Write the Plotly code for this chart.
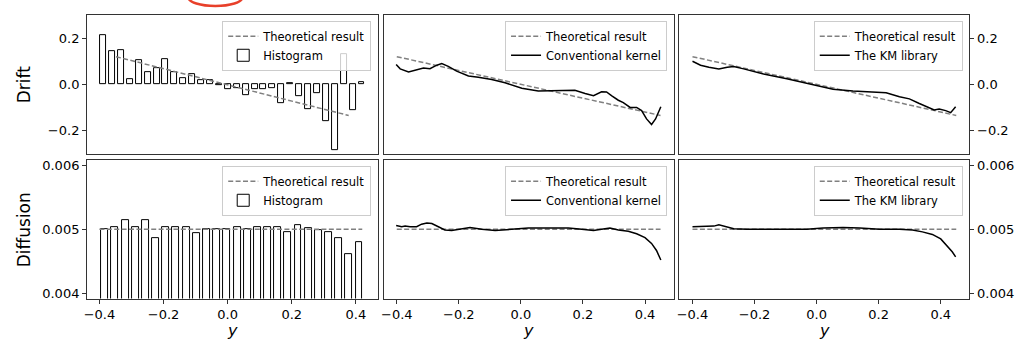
import numpy as np
import plotly.graph_objects as go

W, H = 1018, 343

# ---------------- data ----------------
drift_bins = np.round(np.linspace(-0.447, 0.497, 30), 4)
drift_hist = [0.214, 0.143, 0.149, 0.023, 0.106, 0.054, 0.069, 0.109, 0.054, 0.026,
              0.043, 0.020, 0.017, -0.002, -0.020, -0.018, -0.046, -0.022, -0.021, -0.015,
              -0.082, 0.003, -0.052, -0.107, -0.040, -0.160, -0.287, 0.130, -0.111, 0.008]

diff_bins = np.round(np.linspace(-0.383, 0.410, 26), 4)
diff_hist = [0.00501, 0.00504, 0.00514, 0.00503, 0.00515, 0.00487, 0.00503, 0.00504, 0.00503, 0.00494,
             0.00500, 0.00500, 0.00501, 0.00503, 0.00501, 0.00504, 0.00503, 0.00503, 0.00495, 0.00506,
             0.00502, 0.00498, 0.00495, 0.00487, 0.00462, 0.00480]

theory_x = [-0.4, 0.45]
theory_drift = [0.12, -0.135]
theory_hist_x = [-0.4, 0.42]
theory_diff = [0.005, 0.005]

ck_drift_x = [-0.402, -0.389, -0.362, -0.341, -0.314, -0.293, -0.271, -0.255, -0.234, -0.207,
              -0.169, -0.137, -0.094, -0.051, 0.003, 0.056, 0.121, 0.174, 0.207, 0.234,
              0.260, 0.276, 0.293, 0.314, 0.330, 0.352, 0.373, 0.389, 0.405, 0.421, 0.434, 0.451]
ck_drift_y = [0.086, 0.067, 0.054, 0.060, 0.071, 0.068, 0.083, 0.090, 0.078, 0.057,
              0.036, 0.031, 0.021, 0.007, -0.017, -0.029, -0.029, -0.026, -0.040, -0.049,
              -0.032, -0.033, -0.050, -0.069, -0.079, -0.100, -0.100, -0.114, -0.150, -0.174, -0.150, -0.097]

km_drift_x = [-0.400, -0.374, -0.347, -0.315, -0.288, -0.267, -0.235, -0.171, -0.096, -0.011,
              0.053, 0.117, 0.181, 0.224, 0.267, 0.299, 0.331, 0.363, 0.379, 0.395, 0.416, 0.432, 0.448]
km_drift_y = [0.100, 0.083, 0.074, 0.067, 0.074, 0.077, 0.067, 0.045, 0.024, -0.003,
              -0.021, -0.029, -0.032, -0.037, -0.054, -0.063, -0.083, -0.103, -0.111, -0.107, -0.114, -0.123, -0.097]

ck_diff_x = [-0.402, -0.384, -0.373, -0.357, -0.336, -0.320, -0.303, -0.287, -0.266, -0.245,
             -0.223, -0.191, -0.164, -0.126, -0.083, -0.030, 0.024, 0.078, 0.153, 0.196,
             0.234, 0.260, 0.287, 0.314, 0.346, 0.373, 0.400, 0.421, 0.437, 0.451]
ck_diff_y = [0.00506, 0.00504, 0.00505, 0.00504, 0.00504, 0.00508, 0.00510, 0.00509, 0.00504, 0.00499,
             0.00498, 0.00501, 0.00503, 0.00500, 0.00498, 0.00500, 0.00502, 0.00502, 0.00502, 0.00500,
             0.00498, 0.00500, 0.00502, 0.00499, 0.00497, 0.00493, 0.00487, 0.00478, 0.00467, 0.00452]

km_diff_x = [-0.400, -0.374, -0.352, -0.331, -0.315, -0.293, -0.267, -0.224, -0.160, -0.096,
             -0.032, 0.021, 0.085, 0.139, 0.203, 0.267, 0.309, 0.341, 0.373, 0.400, 0.421, 0.437, 0.448]
km_diff_y = [0.00504, 0.00504, 0.00504, 0.00505, 0.00507, 0.00504, 0.00501, 0.00500, 0.00500, 0.00499,
             0.00500, 0.00502, 0.00503, 0.00502, 0.00500, 0.00500, 0.00499, 0.00496, 0.00492, 0.00485, 0.00474, 0.00465, 0.00457]

x_ticks = [-0.4, -0.2, 0.0, 0.2, 0.4]
drift_ticks = [-0.2, 0.0, 0.2]
diff_ticks = [0.004, 0.005, 0.006]

# ---------------- layout geometry (px) ----------------
col_px = [(84.3, 376.0), (381.7, 672.7), (678.3, 969.3)]
row_px = [(13.3, 153.3), (160.0, 300.0)]
FONT = "DejaVu Sans"
GRAY = "#808080"


def px_x(p):
    return p / W


def px_y(p):
    return 1 - p / H


fig = go.Figure()


def ax_id(r, c):
    return r * 3 + c + 1


def sfx(k):
    return "" if k == 1 else str(k)


theory_line = dict(color=GRAY, width=1.5, dash="5px,2.4px")
black_line = dict(color="black", width=1.5)
bar_style = dict(color="white", line=dict(color="black", width=1))

panels = [
    (0, 0, "hist"), (0, 1, "ck"), (0, 2, "km"),
    (1, 0, "hist"), (1, 1, "ck"), (1, 2, "km"),
]
for r, c, kind in panels:
    k = ax_id(r, c)
    xa, ya = "x" + sfx(k), "y" + sfx(k)
    leg = "legend" + sfx(k)
    if kind == "hist":
        bx, by = (drift_bins, drift_hist) if r == 0 else (diff_bins, diff_hist)
        fig.add_trace(go.Bar(x=bx, y=by, width=0.0218, marker=bar_style, name="Histogram",
                             xaxis=xa, yaxis=ya, legend=leg, legendrank=2))
        tx = theory_x if r == 0 else theory_hist_x
    else:
        if kind == "ck":
            lx, ly = (ck_drift_x, ck_drift_y) if r == 0 else (ck_diff_x, ck_diff_y)
            nm = "Conventional kernel"
        else:
            lx, ly = (km_drift_x, km_drift_y) if r == 0 else (km_diff_x, km_diff_y)
            nm = "The KM library"
        tx = theory_x
    ty = theory_drift if r == 0 else theory_diff
    fig.add_trace(go.Scatter(x=tx, y=ty, mode="lines", line=theory_line, name="Theoretical result",
                             xaxis=xa, yaxis=ya, legend=leg, legendrank=1))
    if kind != "hist":
        fig.add_trace(go.Scatter(x=lx, y=ly, mode="lines", line=black_line, name=nm,
                                 xaxis=xa, yaxis=ya, legend=leg, legendrank=2))

layout = dict(
    width=W, height=H,
    margin=dict(l=0, r=0, t=0, b=0),
    paper_bgcolor="white", plot_bgcolor="white",
    font=dict(family=FONT, size=13, color="black"),
    showlegend=True, bargap=0,
)

for r in range(2):
    for c in range(3):
        k = ax_id(r, c)
        x0, x1 = col_px[c]
        y0, y1 = row_px[r]
        if r == 0 and c == 0:
            xr = [-0.5056, 0.5567]
        elif r == 1 and c == 0:
            xr = [-0.4386, 0.4688]
        else:
            xr = [-0.4425, 0.4925]
        common = dict(showline=True, mirror=True, linecolor="#333333", linewidth=1,
                      showgrid=False, zeroline=False, fixedrange=True,
                      tickfont=dict(family=FONT, size=13, color="black"))
        xax = dict(common, domain=[px_x(x0), px_x(x1)], range=xr, anchor="y" + sfx(k))
        if r == 1:
            xax.update(tickvals=x_ticks, tickformat=".1f", ticks="outside", ticklen=4,
                       tickcolor="#333333", showticklabels=True)
        else:
            xax.update(ticks="", showticklabels=False)
        yax = dict(common, domain=[px_y(y1), px_y(y0)], anchor="x" + sfx(k))
        if r == 0:
            yax.update(range=[-0.3, 0.3], tickvals=drift_ticks, tickformat=".1f")
        else:
            yax.update(range=[0.00392, 0.00608], tickvals=diff_ticks, tickformat=".3f")
        if c == 0:
            yax.update(side="left", ticks="outside", ticklen=4, tickcolor="#333333")
        elif c == 2:
            yax.update(side="right", ticks="outside", ticklen=4, tickcolor="#333333")
        else:
            yax.update(ticks="", showticklabels=False)
        layout["xaxis" + sfx(k)] = xax
        layout["yaxis" + sfx(k)] = yax

        lx_right = x1 - 6.7
        ly_top = y0 + 5.7
        layout["legend" + sfx(k)] = dict(
            x=px_x(lx_right), y=px_y(ly_top), xanchor="right", yanchor="top",
            xref="paper", yref="paper",
            bgcolor="rgba(255,255,255,0.8)", bordercolor="#cccccc", borderwidth=1,
            font=dict(family=FONT, size=11.5, color="black"),
            tracegroupgap=0, itemwidth=30,
        )

annotations = []
for text, cy in [("Drift", 83.3), ("Diffusion", 230.0)]:
    annotations.append(dict(text=text, x=px_x(21), y=px_y(cy), xref="paper", yref="paper",
                            showarrow=False, textangle=-90, xanchor="center", yanchor="middle",
                            font=dict(family=FONT, size=17, color="black")))
for (x0, x1) in col_px:
    annotations.append(dict(text="<i>y</i>", x=px_x((x0 + x1) / 2), y=px_y(321), xref="paper",
                            yref="paper", showarrow=False, xanchor="center", yanchor="top",
                            font=dict(family=FONT, size=16, color="black")))
layout["annotations"] = annotations

layout["shapes"] = [dict(type="circle", xref="paper", yref="paper",
                         x0=px_x(186), x1=px_x(240), y0=px_y(4), y1=px_y(-13),
                         line=dict(color="#e8402a", width=2.5))]

fig.update_layout(**layout)
fig.write_html("out.html", config={"displayModeBar": False},
               post_script="document.body.style.margin='0';document.body.style.overflow='hidden';")
